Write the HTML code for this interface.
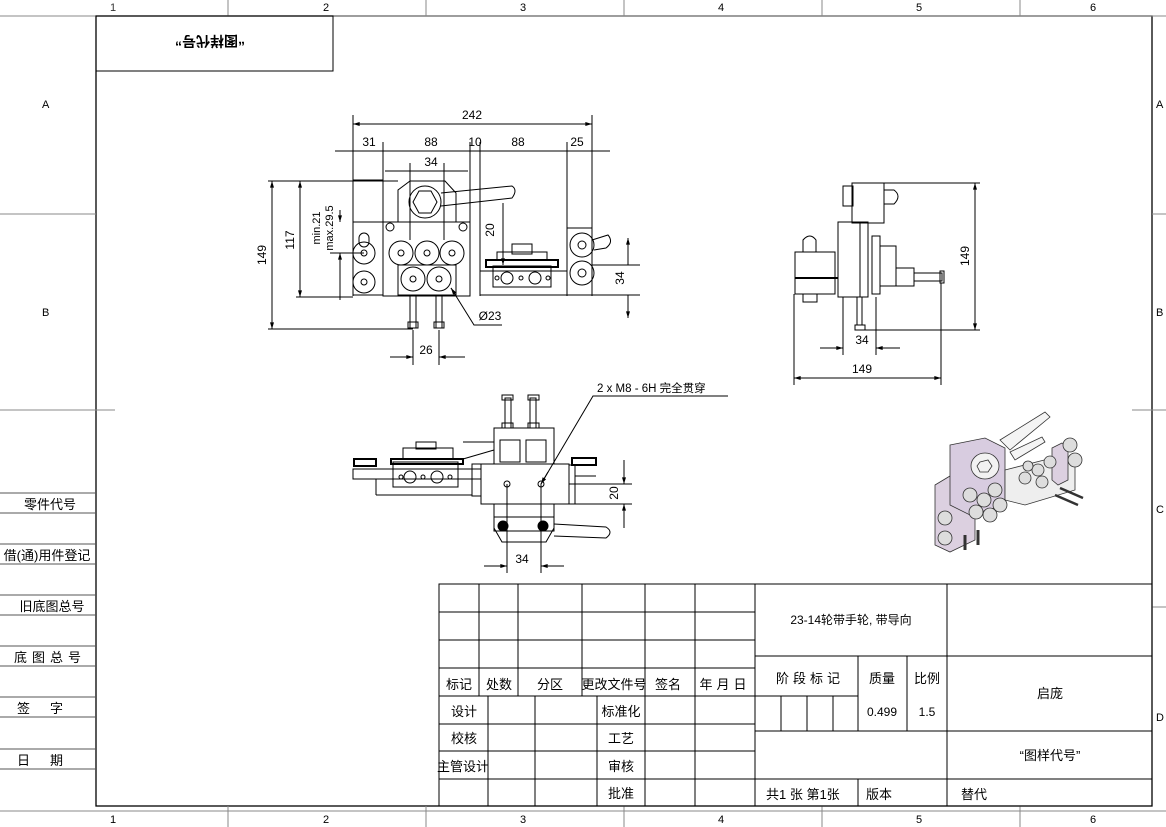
<!DOCTYPE html>
<html><head><meta charset="utf-8"><style>
html,body{margin:0;padding:0;background:#fff;}
svg{display:block;font-family:"Liberation Sans","Noto Sans CJK SC",sans-serif;}
.t{font-size:13px;fill:#000;}
.d{font-size:12px;fill:#000;font-family:"Liberation Sans Narrow","Liberation Sans",sans-serif;}
</style></head><body>
<svg width="1166" height="827" viewBox="0 0 1166 827" xmlns="http://www.w3.org/2000/svg">
<defs>
<marker id="a" viewBox="0 0 10 6" refX="10" refY="3" markerWidth="10" markerHeight="4" orient="auto-start-reverse"><path d="M0,0L10,3L0,6z" fill="#000"/></marker>
</defs>
<g stroke="#000" fill="none" stroke-width="1">
<!-- border -->
<rect x="96" y="16" width="1056" height="790" stroke-width="1.3"/>
<line x1="0" y1="16" x2="1166" y2="16" stroke="#888"/>
<line x1="0" y1="811" x2="1166" y2="811" stroke="#888"/>
<g stroke="#888">
<line x1="228" y1="0" x2="228" y2="16"/><line x1="426" y1="0" x2="426" y2="16"/><line x1="624" y1="0" x2="624" y2="16"/><line x1="822" y1="0" x2="822" y2="16"/><line x1="1020" y1="0" x2="1020" y2="16"/>
<line x1="228" y1="806" x2="228" y2="827"/><line x1="426" y1="806" x2="426" y2="827"/><line x1="624" y1="806" x2="624" y2="827"/><line x1="822" y1="806" x2="822" y2="827"/><line x1="1020" y1="806" x2="1020" y2="827"/>
<line x1="0" y1="214" x2="96" y2="214"/><line x1="0" y1="410" x2="115" y2="410"/>
<line x1="1152" y1="214" x2="1166" y2="214"/><line x1="1132" y1="410" x2="1166" y2="410"/><line x1="1152" y1="607" x2="1166" y2="607"/>
</g>
<!-- top-left box -->
<rect x="96" y="16" width="237" height="55"/>
<!-- left strip -->
<g stroke="#555">
<line x1="0" y1="493" x2="96" y2="493"/><line x1="0" y1="513" x2="96" y2="513"/>
<line x1="0" y1="544" x2="96" y2="544"/><line x1="0" y1="564" x2="96" y2="564"/>
<line x1="0" y1="595" x2="96" y2="595"/><line x1="0" y1="615" x2="96" y2="615"/>
<line x1="0" y1="646" x2="96" y2="646"/><line x1="0" y1="666" x2="96" y2="666"/>
<line x1="0" y1="697" x2="96" y2="697"/><line x1="0" y1="717" x2="96" y2="717"/>
<line x1="0" y1="749" x2="96" y2="749"/><line x1="0" y1="769" x2="96" y2="769"/>
</g>
<!-- title block -->
<rect x="439" y="584" width="713" height="222"/>
<g>
<line x1="439" y1="612" x2="755" y2="612"/><line x1="439" y1="640" x2="755" y2="640"/>
<line x1="439" y1="668" x2="755" y2="668"/><line x1="439" y1="696" x2="858" y2="696"/>
<line x1="439" y1="724" x2="755" y2="724"/><line x1="439" y1="751" x2="755" y2="751"/>
<line x1="439" y1="779" x2="1152" y2="779"/>
<line x1="479" y1="584" x2="479" y2="696"/><line x1="518" y1="584" x2="518" y2="696"/>
<line x1="582" y1="584" x2="582" y2="696"/><line x1="645" y1="584" x2="645" y2="806"/>
<line x1="695" y1="584" x2="695" y2="806"/><line x1="755" y1="584" x2="755" y2="806"/>
<line x1="488" y1="696" x2="488" y2="806"/><line x1="535" y1="696" x2="535" y2="806"/><line x1="597" y1="696" x2="597" y2="806"/>
<line x1="947" y1="584" x2="947" y2="806"/>
<line x1="755" y1="656" x2="1152" y2="656"/>
<line x1="755" y1="731" x2="1152" y2="731"/>
<line x1="858" y1="656" x2="858" y2="731"/><line x1="907" y1="656" x2="907" y2="731"/>
<line x1="781" y1="696" x2="781" y2="731"/><line x1="807" y1="696" x2="807" y2="731"/><line x1="833" y1="696" x2="833" y2="731"/>
<line x1="858" y1="779" x2="858" y2="806"/>
</g>

<!-- FRONT VIEW -->
<g stroke-width="1">
<line x1="353" y1="115" x2="353" y2="296"/><line x1="592" y1="115" x2="592" y2="296"/>
<line x1="353" y1="124" x2="592" y2="124" marker-start="url(#a)" marker-end="url(#a)"/>
<line x1="335" y1="151" x2="610" y2="151"/>
<line x1="383" y1="142" x2="383" y2="296"/><line x1="470" y1="142" x2="470" y2="296"/><line x1="480" y1="142" x2="480" y2="296"/><line x1="567" y1="142" x2="567" y2="296"/>
<line x1="385" y1="171" x2="468" y2="171"/><line x1="410" y1="163" x2="410" y2="240"/><line x1="444" y1="163" x2="444" y2="240"/>
<rect x="353" y="180" width="30" height="42"/>
<rect x="353" y="222" width="30" height="73"/>
<rect x="383" y="222" width="87" height="74"/>
<path d="M398,222 L398,190 L410,181 L445,181 L456,193 L456,222"/>
<circle cx="425" cy="202" r="16"/><path d="M419,191 L431,191 L437,202 L431,213 L419,213 L413,202Z"/>
<path d="M441,193 L512,186 Q518,190 512,198 L441,206"/>
<circle cx="390" cy="227" r="4"/><circle cx="463" cy="227" r="4"/>
<circle cx="364" cy="253" r="11"/><circle cx="364" cy="253" r="3"/>
<circle cx="364" cy="282" r="11"/><circle cx="364" cy="282" r="3"/>
<rect x="359" y="233" width="10" height="14" rx="5"/>
<circle cx="401" cy="253" r="12"/><circle cx="401" cy="253" r="3"/>
<circle cx="427" cy="253" r="12"/><circle cx="427" cy="253" r="3"/>
<circle cx="452" cy="253" r="12"/><circle cx="452" cy="253" r="3"/>
<rect x="398" y="265" width="58" height="30"/>
<circle cx="413" cy="279" r="12" fill="#fff"/><circle cx="413" cy="279" r="3"/>
<circle cx="439" cy="279" r="12" fill="#fff"/><circle cx="439" cy="279" r="3"/>
<rect x="410" y="296" width="6" height="32"/><rect x="436" y="296" width="6" height="32"/>
<rect x="408" y="322" width="10" height="6"/><rect x="434" y="322" width="10" height="6"/>
<rect x="480" y="271" width="87" height="24"/>
<rect x="486" y="260" width="72" height="7" stroke-width="2"/>
<rect x="493" y="266" width="58" height="21"/>
<circle cx="507" cy="278" r="6"/><circle cx="535" cy="278" r="6"/><circle cx="497" cy="278" r="2"/><circle cx="521" cy="278" r="2"/><circle cx="548" cy="278" r="2"/>
<rect x="512" y="244" width="20" height="10"/><rect x="497" y="252" width="50" height="8"/>
<rect x="567" y="228" width="25" height="67"/>
<circle cx="582" cy="245" r="12"/><circle cx="582" cy="245" r="4"/>
<circle cx="582" cy="273" r="12"/><circle cx="582" cy="273" r="4"/>
<path d="M592,240 L608,235 Q614,242 606,248 L594,250"/>
<!-- dims left -->
<line x1="268" y1="181" x2="398" y2="181"/><line x1="268" y1="329" x2="413" y2="329"/><line x1="296" y1="297" x2="353" y2="297"/>
<line x1="272" y1="181" x2="272" y2="329" marker-start="url(#a)" marker-end="url(#a)"/>
<line x1="300" y1="181" x2="300" y2="297" marker-start="url(#a)" marker-end="url(#a)"/>
<line x1="340" y1="210" x2="340" y2="222" marker-end="url(#a)"/><line x1="340" y1="253" x2="340" y2="300" marker-start="url(#a)"/>
<line x1="330" y1="253" x2="364" y2="253"/>
<line x1="503" y1="203" x2="503" y2="265" marker-end="url(#a)"/>
<line x1="628" y1="238" x2="628" y2="265" marker-start="url(#a)"/><line x1="628" y1="295" x2="628" y2="318" marker-end="url(#a)"/>
<line x1="592" y1="265" x2="640" y2="265"/><line x1="592" y1="295" x2="640" y2="295"/>
<line x1="413" y1="330" x2="413" y2="365"/><line x1="439" y1="330" x2="439" y2="365"/>
<line x1="390" y1="357" x2="413" y2="357" marker-end="url(#a)"/><line x1="439" y1="357" x2="465" y2="357" marker-start="url(#a)"/>
<path d="M451,288 L474,325 L502,325"/>
<line x1="451" y1="288" x2="455" y2="294" marker-start="url(#a)"/>
</g>

<!-- RIGHT VIEW -->
<g>
<rect x="852" y="183" width="32" height="40"/>
<rect x="843" y="186" width="10" height="20"/><path d="M884,190 L894,190 Q902,196 894,204 L884,204"/>
<rect x="838" y="222" width="30" height="75"/>
<line x1="860" y1="222" x2="860" y2="297"/>
<rect x="795" y="252" width="40" height="42"/>
<line x1="795" y1="278" x2="838" y2="278" stroke-width="2"/>
<path d="M803,252 L803,240 Q810,232 816,240 L816,252"/>
<rect x="803" y="294" width="14" height="8"/>
<rect x="872" y="236" width="8" height="58"/><rect x="880" y="246" width="16" height="40"/>
<rect x="896" y="268" width="18" height="18"/><rect x="914" y="273" width="28" height="8"/>
<rect x="940" y="271" width="4" height="12"/>
<rect x="857" y="297" width="5" height="28"/><rect x="855" y="325" width="10" height="5"/>
<line x1="862" y1="183" x2="980" y2="183"/><line x1="865" y1="330" x2="980" y2="330"/>
<line x1="975" y1="183" x2="975" y2="330" marker-start="url(#a)" marker-end="url(#a)"/>
<line x1="843" y1="297" x2="843" y2="355"/><line x1="876" y1="297" x2="876" y2="355"/>
<line x1="820" y1="348" x2="843" y2="348" marker-end="url(#a)"/><line x1="876" y1="348" x2="900" y2="348" marker-start="url(#a)"/>
<line x1="794" y1="294" x2="794" y2="385"/><line x1="941" y1="283" x2="941" y2="385"/>
<line x1="794" y1="378" x2="941" y2="378" marker-start="url(#a)" marker-end="url(#a)"/>
</g>

<!-- BOTTOM VIEW -->
<g>
<rect x="494" y="428" width="60" height="36"/>
<rect x="500" y="440" width="20" height="22"/><rect x="526" y="440" width="20" height="22"/>
<rect x="505" y="398" width="6" height="30"/><rect x="530" y="398" width="6" height="30"/>
<rect x="502" y="395" width="11" height="5"/><rect x="528" y="395" width="11" height="5"/>
<rect x="502" y="423" width="11" height="5"/><rect x="528" y="423" width="11" height="5"/>
<rect x="481" y="464" width="88" height="40"/>
<rect x="472" y="464" width="9" height="32"/>
<rect x="353" y="469" width="128" height="10"/>
<line x1="376" y1="479" x2="376" y2="495"/><line x1="376" y1="495" x2="472" y2="495"/>
<rect x="393" y="462" width="65" height="25"/>
<circle cx="410" cy="477" r="6"/><circle cx="437" cy="477" r="6"/><circle cx="401" cy="477" r="2"/><circle cx="423" cy="477" r="2"/><circle cx="450" cy="477" r="2"/>
<rect x="391" y="459" width="72" height="5" stroke-width="2"/>
<rect x="403" y="448" width="50" height="11"/><rect x="416" y="442" width="20" height="7"/>
<rect x="354" y="459" width="22" height="7" stroke-width="2"/>
<rect x="572" y="458" width="24" height="7" stroke-width="2"/>
<path d="M569,465 L575,465 L575,476 L596,476"/><line x1="569" y1="504" x2="575" y2="504"/><line x1="575" y1="476" x2="575" y2="504"/>
<line x1="463" y1="442" x2="494" y2="442"/><line x1="463" y1="459" x2="494" y2="450"/>
<circle cx="507" cy="484" r="3"/><circle cx="541" cy="484" r="3"/>
<rect x="494" y="517" width="60" height="14"/>
<path d="M494,504 L494,528 L502,542 L546,542 L554,528 L554,504"/>
<circle cx="503" cy="526" r="5" fill="#000"/><circle cx="543" cy="526" r="5" fill="#000"/>
<path d="M554,524 L606,527 Q614,532 606,538 L554,536"/>
<line x1="507" y1="484" x2="507" y2="573"/><line x1="541" y1="484" x2="541" y2="573"/>
<line x1="484" y1="566" x2="507" y2="566" marker-end="url(#a)"/><line x1="541" y1="566" x2="564" y2="566" marker-start="url(#a)"/>
<line x1="569" y1="484" x2="632" y2="484"/><line x1="569" y1="504" x2="632" y2="504"/>
<line x1="624" y1="460" x2="624" y2="484" marker-end="url(#a)"/><line x1="624" y1="504" x2="624" y2="528" marker-start="url(#a)"/>
<path d="M541,484 L593,396 L728,396"/>
<line x1="541" y1="484" x2="548" y2="472" marker-start="url(#a)"/>
</g>

<!-- 3D VIEW -->
<g stroke="#333" stroke-width="0.8">
<path d="M935,485 L960,470 L975,476 L975,540 L950,552 L935,545Z" fill="#dcd0e0"/>
<path d="M950,445 L985,438 L1005,448 L1005,505 L970,515 L950,505Z" fill="#d8cce0"/>
<path d="M1005,470 L1060,456 L1075,462 L1075,490 L1025,505 L1005,500Z" fill="#eee"/>
<path d="M1052,448 L1062,443 L1068,448 L1068,480 L1058,485 L1052,480Z" fill="#dcd0e0"/>
<path d="M1000,440 L1045,412 L1050,417 L1010,450Z" fill="#f4f4f4"/>
<path d="M1010,452 L1042,437 L1045,442 L1015,460Z" fill="#f4f4f4"/>
<ellipse cx="985" cy="466" rx="14" ry="13" fill="#f2f2f2"/><path d="M980,462 L988,460 L992,466 L988,472 L980,472 L977,466Z"/>
<circle cx="1070" cy="445" r="7" fill="#ddd"/><circle cx="1075" cy="460" r="7" fill="#ddd"/>
<circle cx="1038" cy="470" r="6" fill="#ddd"/><circle cx="1050" cy="462" r="6" fill="#ddd"/><circle cx="1025" cy="478" r="6" fill="#ddd"/><circle cx="1042" cy="482" r="6" fill="#ddd"/><circle cx="1028" cy="466" r="5" fill="#ddd"/>
<circle cx="970" cy="495" r="7" fill="#ddd"/><circle cx="984" cy="500" r="7" fill="#ddd"/><circle cx="995" cy="490" r="7" fill="#ddd"/><circle cx="976" cy="512" r="7" fill="#ddd"/><circle cx="990" cy="515" r="7" fill="#ddd"/><circle cx="1000" cy="505" r="7" fill="#ddd"/>
<circle cx="945" cy="518" r="7" fill="#ddd"/><circle cx="945" cy="538" r="7" fill="#ddd"/>
<line x1="1055" y1="495" x2="1078" y2="505" stroke-width="2.5"/><line x1="1060" y1="488" x2="1083" y2="498" stroke-width="2.5"/>
<line x1="965" y1="535" x2="965" y2="550" stroke-width="3"/><line x1="978" y1="530" x2="978" y2="545" stroke-width="3"/>
</g>
</g>

<!-- TEXT -->
<g class="t" font-size="12">
<text x="110" y="11" font-size="11" fill="#333">1</text><text x="323" y="11" font-size="11">2</text><text x="520" y="11" font-size="11">3</text><text x="718" y="11" font-size="11">4</text><text x="916" y="11" font-size="11">5</text><text x="1090" y="11" font-size="11">6</text>
<text x="110" y="823" font-size="11">1</text><text x="323" y="823" font-size="11">2</text><text x="520" y="823" font-size="11">3</text><text x="718" y="823" font-size="11">4</text><text x="916" y="823" font-size="11">5</text><text x="1090" y="823" font-size="11">6</text>
<text x="42" y="108" font-size="11">A</text><text x="42" y="316" font-size="11">B</text>
<text x="1156" y="108" font-size="11">A</text><text x="1156" y="316" font-size="11">B</text><text x="1156" y="513" font-size="11">C</text><text x="1156" y="721" font-size="11">D</text>
<text x="210" y="44" text-anchor="middle" font-size="14" font-weight="bold" transform="rotate(180 210 40)">“图样代号”</text>
<text x="50" y="509" text-anchor="middle" font-size="13">零件代号</text>
<text x="47" y="560" text-anchor="middle" font-size="13">借(通)用件登记</text>
<text x="52" y="611" text-anchor="middle" font-size="13">旧底图总号</text>
<text x="50" y="662" text-anchor="middle" font-size="13" letter-spacing="5">底图总号</text>
<text x="50" y="713" text-anchor="middle" font-size="13" letter-spacing="20">签字</text>
<text x="50" y="765" text-anchor="middle" font-size="13" letter-spacing="20">日期</text>
<text x="459" y="689" text-anchor="middle" font-size="13">标记</text>
<text x="499" y="689" text-anchor="middle" font-size="13">处数</text>
<text x="550" y="689" text-anchor="middle" font-size="13">分区</text>
<text x="614" y="689" text-anchor="middle" font-size="13">更改文件号</text>
<text x="668" y="689" text-anchor="middle" font-size="13">签名</text>
<text x="725" y="689" text-anchor="middle" font-size="13" letter-spacing="4">年月日</text>
<text x="464" y="716" text-anchor="middle" font-size="13">设计</text>
<text x="464" y="743" text-anchor="middle" font-size="13">校核</text>
<text x="463" y="771" text-anchor="middle" font-size="13">主管设计</text>
<text x="621" y="716" text-anchor="middle" font-size="13">标准化</text>
<text x="621" y="743" text-anchor="middle" font-size="13">工艺</text>
<text x="621" y="771" text-anchor="middle" font-size="13">审核</text>
<text x="621" y="798" text-anchor="middle" font-size="13">批准</text>
<text x="851" y="624" text-anchor="middle" font-size="12">23-14轮带手轮, 带导向</text>
<text x="810" y="683" text-anchor="middle" font-size="13" letter-spacing="4">阶段标记</text>
<text x="882" y="683" text-anchor="middle" font-size="13">质量</text>
<text x="927" y="683" text-anchor="middle" font-size="13">比例</text>
<text x="882" y="716" text-anchor="middle" font-size="12">0.499</text>
<text x="927" y="716" text-anchor="middle" font-size="12">1.5</text>
<text x="1050" y="698" text-anchor="middle" font-size="13">启庞</text>
<text x="1050" y="760" text-anchor="middle" font-size="13">“图样代号”</text>
<text x="766" y="799" font-size="13">共1 张   第1张</text>
<text x="866" y="799" font-size="13">版本</text>
<text x="961" y="799" font-size="13">替代</text>
</g>
<g class="d" font-size="12">
<text x="472" y="119" text-anchor="middle">242</text>
<text x="369" y="146" text-anchor="middle">31</text>
<text x="431" y="146" text-anchor="middle">88</text>
<text x="475" y="146" text-anchor="middle">10</text>
<text x="518" y="146" text-anchor="middle">88</text>
<text x="577" y="146" text-anchor="middle">25</text>
<text x="431" y="166" text-anchor="middle">34</text>
<text x="266" y="255" text-anchor="middle" transform="rotate(-90 266 255)">149</text>
<text x="294" y="240" text-anchor="middle" transform="rotate(-90 294 240)">117</text>
<text x="320" y="228" text-anchor="middle" font-size="11" transform="rotate(-90 320 228)">min.21</text>
<text x="333" y="228" text-anchor="middle" font-size="11" transform="rotate(-90 333 228)">max.29.5</text>
<text x="494" y="230" text-anchor="middle" transform="rotate(-90 494 230)">20</text>
<text x="624" y="278" text-anchor="middle" transform="rotate(-90 624 278)">34</text>
<text x="426" y="354" text-anchor="middle">26</text>
<text x="490" y="320" text-anchor="middle">Ø23</text>
<text x="969" y="256" text-anchor="middle" transform="rotate(-90 969 256)">149</text>
<text x="862" y="344" text-anchor="middle">34</text>
<text x="862" y="373" text-anchor="middle">149</text>
<text x="618" y="493" text-anchor="middle" transform="rotate(-90 618 493)">20</text>
<text x="522" y="563" text-anchor="middle">34</text>
<text x="597" y="392" font-size="11.5">2 x  M8 - 6H 完全贯穿</text>
</g>
</svg>
</body></html>
